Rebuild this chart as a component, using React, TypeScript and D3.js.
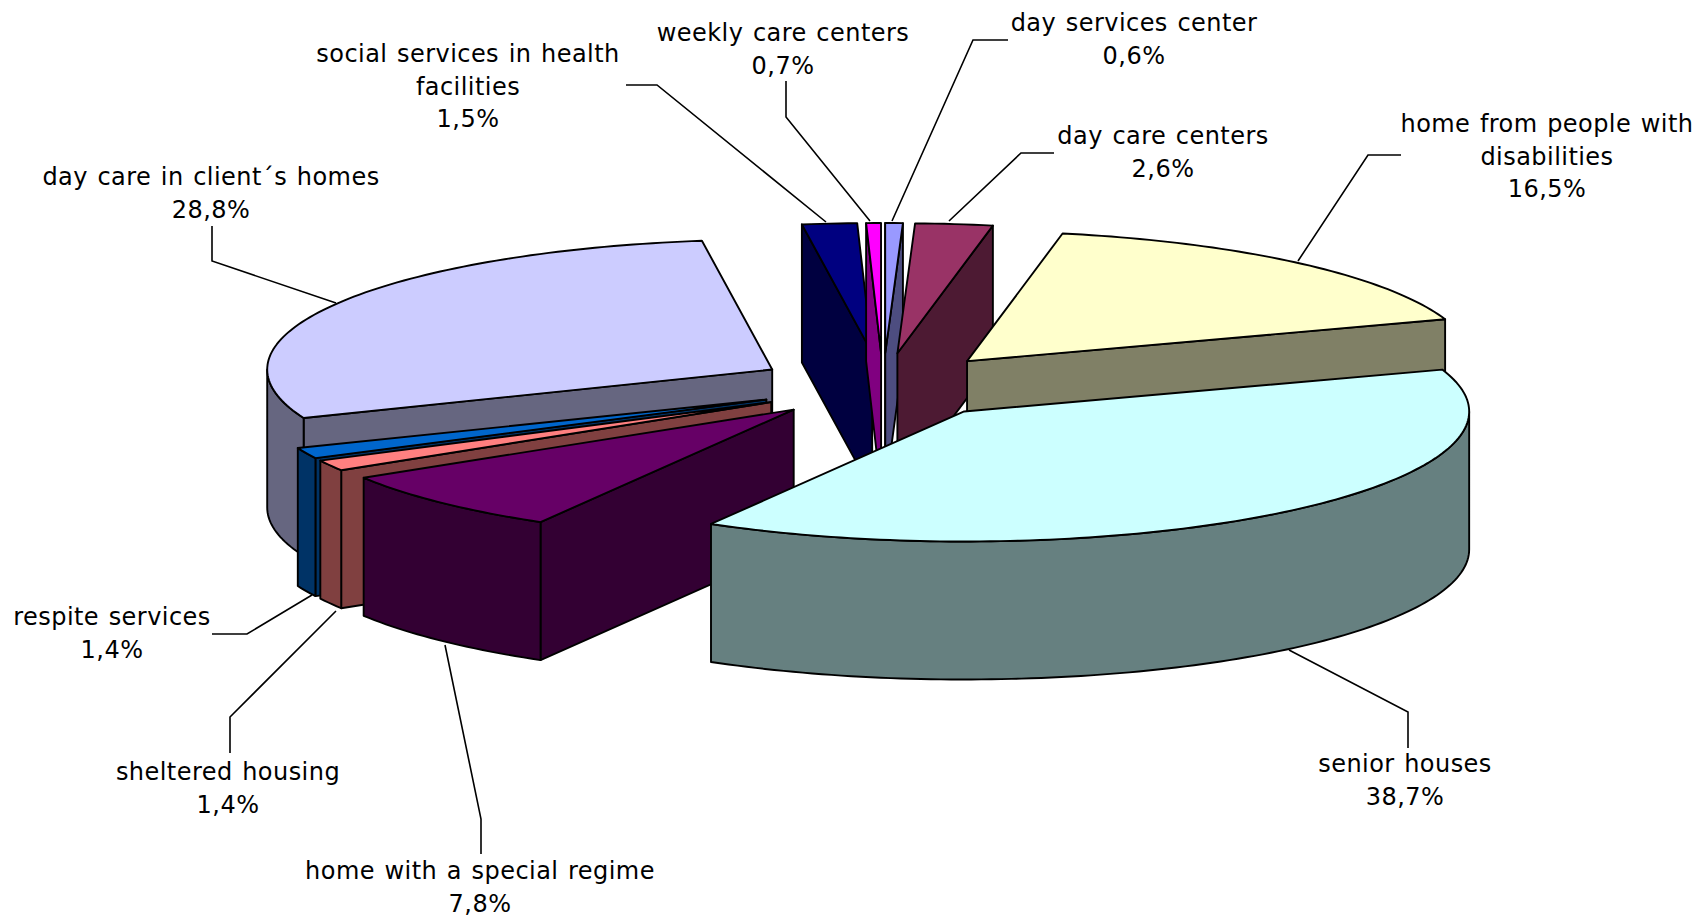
import * as d3 from "d3";

const WIDTH = 1699;
const HEIGHT = 917;
const CX = 883;
const CY = 386;
const RX = 505;
const RY = 130;
const DEPTH = 138;
const EXPLODE = 128 / 505;
const FONT = "'DejaVu Sans', Verdana, sans-serif";
const FONT_SIZE = 24;

const categories = [
  "home from people with disabilities",
  "senior houses",
  "home with a special regime",
  "sheltered housing",
  "respite services",
  "day care in client´s homes",
  "social services in health facilities",
  "weekly care centers",
  "day services center",
  "day care centers",
];
const values = [16.5, 38.7, 7.8, 1.4, 1.4, 28.8, 1.5, 0.7, 0.6, 2.6];
// slice widths as they are drawn in the picture, its coarse rims stray a little from the printed labels
const drawnShares = [16.75, 38.58, 7.86, 1.35, 1.35, 28.86, 1.75, 0.47, 0.56, 2.47];
const colors = ["#ffffcc", "#ccffff", "#660066", "#ff8080", "#0066cc", "#ccccff", "#000080", "#ff00ff", "#9999ff", "#993366"];

// back slices first, the big front slice has to cover the others
const drawOrder = [6, 7, 8, 9, 0, 5, 4, 3, 2, 1];

// label block centre x, first baseline, wrapped lines, leader polyline
const labelLayout = [
  { x: 1547, y: 132, lines: ["home from people with", "disabilities"], leader: [[1401, 155], [1368, 155], [1298, 261]] },
  { x: 1405, y: 772, lines: ["senior houses"], leader: [[1408, 748], [1408, 712], [1289, 650]] },
  { x: 480, y: 879, lines: ["home with a special regime"], leader: [[481, 854], [481, 819], [445, 645]] },
  { x: 228, y: 780, lines: ["sheltered housing"], leader: [[230, 753], [230, 717], [336, 611]] },
  { x: 112, y: 625, lines: ["respite services"], leader: [[212, 634], [247, 634], [312, 595]] },
  { x: 211, y: 185, lines: ["day care in client´s homes"], leader: [[212, 226], [212, 261], [336, 303]] },
  { x: 468, y: 62, lines: ["social services in health", "facilities"], leader: [[626, 85], [657, 85], [826, 222]] },
  { x: 783, y: 41, lines: ["weekly care centers"], leader: [[786, 81], [786, 117], [870, 221]] },
  { x: 1134, y: 31, lines: ["day services center"], leader: [[1008, 40], [973, 40], [892, 221]] },
  { x: 1163, y: 144, lines: ["day care centers"], leader: [[1054, 153], [1021, 153], [949, 221]] },
];

const LINE_GAP = 32.5;

const pieLayout = d3
  .pie<number>()
  .sort(null)
  .startAngle((10.9 * Math.PI) / 180)
  .endAngle((370.9 * Math.PI) / 180);

const slices = pieLayout(drawnShares);
const pathLine = d3.line();

function rim(cx: number, cy: number, a: number): [number, number] {
  return [cx + RX * Math.sin(a), cy - RY * Math.cos(a)];
}

function arcPoints(cx: number, cy: number, a0: number, a1: number) {
  const steps = Math.max(2, Math.ceil((a1 - a0) / 0.02));
  return d3.range(steps + 1).map((i) => rim(cx, cy, a0 + ((a1 - a0) * i) / steps));
}

function wallPath(points: [number, number][]) {
  const lower = points.slice().reverse().map(([x, y]) => [x, y + DEPTH] as [number, number]);
  return pathLine(points.concat(lower)) + "Z";
}

function Slice({ index }: { index: number }) {
  const { startAngle: a0, endAngle: a1 } = slices[index];
  const mid = (a0 + a1) / 2;
  const cx = CX + EXPLODE * RX * Math.sin(mid);
  const cy = CY - EXPLODE * RY * Math.cos(mid);
  const top = colors[index];
  const c = d3.rgb(top);
  const side = d3.rgb(c.r / 2, c.g / 2, c.b / 2).formatHex();
  const apex: [number, number] = [cx, cy];

  const walls: string[] = [];
  if (Math.sin(a0) < 0) walls.push(wallPath([apex, rim(cx, cy, a0)]));
  if (Math.sin(a1) > 0) walls.push(wallPath([apex, rim(cx, cy, a1)]));
  const v0 = Math.max(a0, Math.PI / 2);
  const v1 = Math.min(a1, (3 * Math.PI) / 2);
  if (v1 > v0) walls.push(wallPath(arcPoints(cx, cy, v0, v1)));

  const face = pathLine([apex, ...arcPoints(cx, cy, a0, a1)]) + "Z";
  return (
    <g stroke="#000" strokeWidth={1.9} strokeLinejoin="round">
      {walls.map((d, i) => (
        <path key={i} d={d} fill={side} />
      ))}
      <path d={face} fill={top} />
    </g>
  );
}

export default function App() {
  return (
    <svg
      width={WIDTH}
      height={HEIGHT}
      viewBox={`0 0 ${WIDTH} ${HEIGHT}`}
      style={{ position: "absolute", left: 0, top: 0, display: "block", background: "#fff" }}
    >
      <g fill="none" stroke="#000" strokeWidth={1.6}>
        {labelLayout.map((l, i) => (
          <path key={i} d={pathLine(l.leader as [number, number][]) || ""} />
        ))}
      </g>
      {drawOrder.map((i) => (
        <Slice key={i} index={i} />
      ))}
      <g fontFamily={FONT} fontSize={FONT_SIZE} fill="#000" textAnchor="middle" letterSpacing={0.45} wordSpacing={1.5}>
        {labelLayout.map((l, i) => (
          <text key={categories[i]} x={l.x} y={l.y}>
            {l.lines.map((line, j) => (
              <tspan key={j} x={l.x} dy={j === 0 ? 0 : LINE_GAP}>
                {line}
              </tspan>
            ))}
            <tspan x={l.x} dy={LINE_GAP}>
              {values[i].toFixed(1).replace(".", ",")}%
            </tspan>
          </text>
        ))}
      </g>
    </svg>
  );
}
